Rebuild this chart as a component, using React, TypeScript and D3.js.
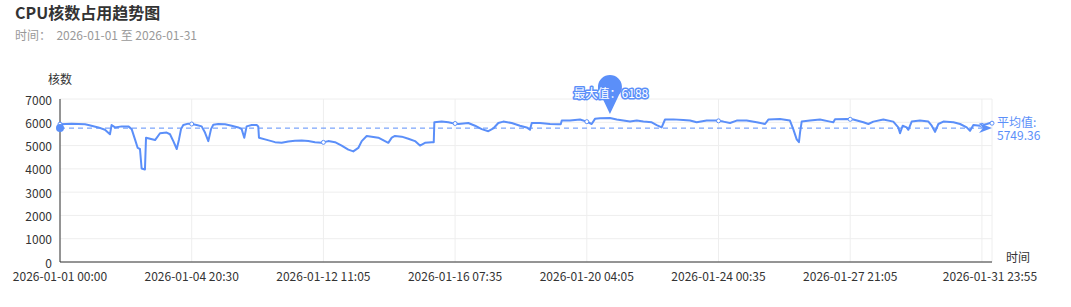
import React from "react";
import * as d3 from "d3";

// ---- data ----
const titleText = "CPU核数占用趋势图";
const subtitleText = "时间：  2026-01-01 至 2026-01-31";
const yAxisName = "核数";
const xAxisName = "时间";
const categoryCount = 7856; // 5-minute samples
const labelInterval = 1110;
const xTickLabels = [
  "2026-01-01 00:00",
  "2026-01-04 20:30",
  "2026-01-12 11:05",
  "2026-01-16 07:35",
  "2026-01-20 04:05",
  "2026-01-24 00:35",
  "2026-01-27 21:05",
  "2026-01-31 23:55",
];
const xTickIndex = [0, 1110, 2220, 3330, 4440, 5550, 6660, 7855];
const yTicks = [0, 1000, 2000, 3000, 4000, 5000, 6000, 7000];

// sampled category index of the series
const sampleIndex = [
  0, 98, 211, 239, 323, 379, 421, 435, 464, 520, 576, 604, 632, 655, 674, 688, 716, 725, 759, 801,
  843, 899, 927, 955, 984, 1003, 1020, 1039, 1081, 1110, 1152, 1194, 1222, 1250, 1273, 1292, 1334, 1391, 1447, 1503,
  1531, 1553, 1573, 1616, 1658, 1671, 1677, 1728, 1812, 1868, 1924, 1980, 2037, 2093, 2149, 2205, 2261, 2318, 2374, 2430,
  2472, 2514, 2543, 2585, 2627, 2683, 2739, 2767, 2796, 2823, 2880, 2936, 2992, 3034, 3076, 3133, 3150, 3155, 3217, 3273,
  3302, 3358, 3441, 3498, 3554, 3610, 3652, 3694, 3736, 3807, 3877, 3933, 3961, 3976, 4045, 4130, 4200, 4220, 4229, 4298,
  4383, 4439, 4481, 4509, 4551, 4635, 4692, 4748, 4804, 4861, 4917, 4987, 5029, 5071, 5099, 5169, 5253, 5310, 5366, 5450,
  5535, 5590, 5647, 5703, 5787, 5872, 5942, 5970, 6068, 6152, 6180, 6209, 6228, 6237, 6251, 6321, 6405, 6490, 6518, 6532,
  6630, 6686, 6771, 6813, 6855, 6939, 7023, 7065, 7080, 7102, 7136, 7150, 7178, 7248, 7319, 7347, 7375, 7403, 7445, 7530,
  7586, 7642, 7670, 7698, 7755, 7811, 7839, 7855,
];
// CPU cores used at those samples
const cpuCores = [
  5920, 5940, 5912, 5882, 5780, 5677, 5486, 5882, 5780, 5824, 5824, 5706, 5265, 4898, 4853, 4016, 3971, 5339, 5294, 5236,
  5530, 5559, 5486, 5192, 4853, 5265, 5706, 5882, 5941, 5926, 5882, 5824, 5559, 5192, 5706, 5897, 5926, 5912, 5853, 5780,
  5706, 5339, 5824, 5882, 5882, 5824, 5339, 5265, 5147, 5118, 5177, 5206, 5221, 5192, 5147, 5118, 5192, 5147, 5000, 4824,
  4750, 4898, 5192, 5412, 5383, 5339, 5192, 5118, 5339, 5412, 5383, 5294, 5192, 5000, 5118, 5147, 5147, 6000, 6029, 6000,
  5971, 5926, 5971, 5853, 5706, 5618, 5735, 5971, 6029, 5971, 5853, 5780, 5677, 5971, 5971, 5926, 5912, 5912, 6073, 6073,
  6118, 6029, 5926, 6147, 6170, 6188, 6118, 6073, 6029, 6073, 6029, 6000, 5882, 5780, 6120, 6125, 6100, 6073, 6000, 6073,
  6073, 6029, 5971, 6073, 6073, 6000, 5926, 6118, 6140, 6073, 5706, 5265, 5147, 5559, 6029, 6073, 6118, 6029, 6000, 6130,
  6140, 6118, 6000, 5926, 6029, 6118, 6029, 5780, 5530, 5853, 5780, 5677, 6029, 6073, 6029, 5853, 5588, 5926, 6029, 6000,
  5926, 5780, 5632, 5882, 5853, 5926, 5971, 5960,
];
const averageValue = 5749.36;
const maxValue = 6188;

// ---- style ----
const W = 1071;
const H = 307;
const LINE = "#5b8ff9";
const FONT = "'Noto Sans CJK SC', 'Noto Sans', sans-serif";

export default function App() {
  const x = d3.scaleLinear().domain([0, categoryCount - 1]).range([60, 992]);
  const y = d3.scaleLinear().domain([0, 7000]).range([262, 99]);

  const pts: [number, number][] = sampleIndex.map((idx, i) => [idx, cpuCores[i]]);
  const linePath = d3
    .line<[number, number]>()
    .x((d) => x(d[0]))
    .y((d) => y(d[1]))(pts) as string;

  const valueAt = (idx: number) => {
    const j = d3.bisectLeft(sampleIndex, idx);
    if (j <= 0) return cpuCores[0];
    if (j >= sampleIndex.length) return cpuCores[cpuCores.length - 1];
    const i0 = sampleIndex[j - 1], i1 = sampleIndex[j];
    const t = (idx - i0) / (i1 - i0 || 1);
    return cpuCores[j - 1] + (cpuCores[j] - cpuCores[j - 1]) * t;
  };

  const splitIdx: number[] = [];
  for (let k = 0; k < categoryCount; k += labelInterval) splitIdx.push(k);
  splitIdx.push(categoryCount - 1);

  const symbolIdx = [...splitIdx];

  const maxIdx = sampleIndex[cpuCores.indexOf(maxValue)];
  const px = x(maxIdx);
  const py = y(maxValue);
  // pin shape
  const pinR = 12;
  const pinCy = py - 31;
  const a = Math.PI * 0.22;
  const lx = px - pinR * Math.cos(a);
  const ly = pinCy + pinR * Math.sin(a);
  const rx = px + pinR * Math.cos(a);
  const pinPath = `M${px},${py - 4} L${lx},${ly} A${pinR},${pinR} 0 1 1 ${rx},${ly} Z`;

  const avgY = y(averageValue);
  const x0 = x(0);
  const x1 = x(categoryCount - 1);

  return (
    <svg
      width={W}
      height={H}
      style={{ position: "absolute", left: 0, top: 0, background: "#fff" }}
      fontFamily={FONT}
    >
      <text x={15} y={19} fontSize={16} fontWeight="bold" fill="#333">
        {titleText}
      </text>
      <text x={15} y={40} fontSize={12} fill="#999" style={{ whiteSpace: "pre" }}>
        {subtitleText}
      </text>

      {/* grid */}
      {yTicks.map((t) => (
        <line key={"h" + t} x1={x0} x2={x1} y1={y(t)} y2={y(t)} stroke="#eeeeee" />
      ))}
      {splitIdx.map((k) => (
        <line key={"v" + k} x1={x(k)} x2={x(k)} y1={y(7000)} y2={y(0)} stroke="#eeeeee" />
      ))}

      {/* axes */}
      <line x1={x0} x2={x0} y1={y(7000)} y2={y(0)} stroke="#333" />
      <line x1={x0} x2={x1} y1={y(0)} y2={y(0)} stroke="#333" />
      {yTicks.map((t) => (
        <text key={"yl" + t} x={52} y={y(t)} fontSize={12} fill="#333" textAnchor="end" dominantBaseline="central">
          {t}
        </text>
      ))}
      <text x={60} y={78} fontSize={12} fill="#333" textAnchor="middle" dominantBaseline="central">
        {yAxisName}
      </text>
      {xTickIndex.map((k, i) => (
        <text key={"xl" + k} x={x(k) - (i === xTickIndex.length - 1 ? 2 : 0)} y={275} fontSize={12} fill="#333" textAnchor="middle" dominantBaseline="central">
          {xTickLabels[i]}
        </text>
      ))}
      <text x={1018} y={256} fontSize={12} fill="#333" textAnchor="middle" dominantBaseline="central">
        {xAxisName}
      </text>

      {/* series */}
      <path d={linePath} fill="none" stroke={LINE} strokeWidth={2} strokeLinejoin="round" />
      {symbolIdx.map((k) => (
        <circle key={"s" + k} cx={x(k)} cy={y(valueAt(k))} r={2} fill="#fff" stroke={LINE} strokeWidth={1} />
      ))}

      {/* average mark line */}
      <line x1={x0} x2={x1 - 4} y1={avgY} y2={avgY} stroke={LINE} strokeDasharray="5,4" strokeWidth={1} />
      <circle cx={x0} cy={avgY} r={4} fill={LINE} />
      <path
        d={`M${x1},${avgY} L${x1 - 13},${avgY - 5} L${x1 - 9},${avgY} L${x1 - 13},${avgY + 5} Z`}
        fill={LINE}
      />
      <text x={997} y={121} fontSize={12} fill={LINE} dominantBaseline="central">
        平均值:
      </text>
      <text x={997} y={134} fontSize={12} fill={LINE} dominantBaseline="central">
        {averageValue.toFixed(2)}
      </text>

      {/* max mark point */}
      <path d={pinPath} fill={LINE} />
      <text
        x={px + 1}
        y={92}
        fontSize={12}
        fill="#fff"
        stroke={LINE}
        strokeWidth={3}
        strokeLinejoin="round"
        textAnchor="middle"
        dominantBaseline="central"
        style={{ paintOrder: "stroke" }}
      >
        {`最大值：${maxValue}`}
      </text>
    </svg>
  );
}
